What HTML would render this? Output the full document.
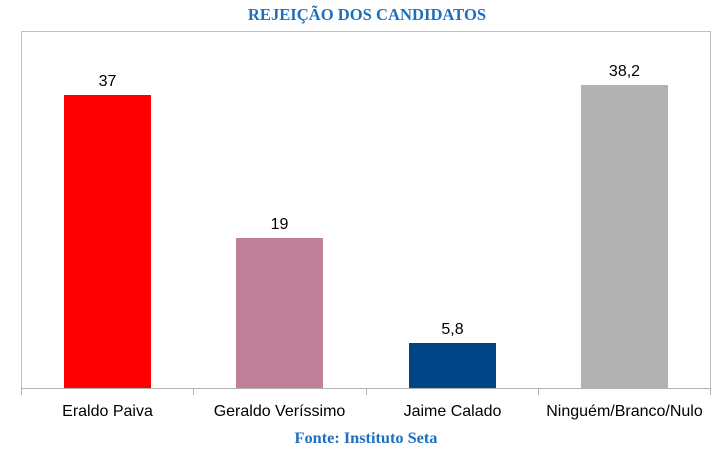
<!DOCTYPE html>
<html><head><style>body{margin:0;background:#fff}</style></head><body>
<svg width="726" height="471" xmlns="http://www.w3.org/2000/svg">
<rect width="726" height="471" fill="#fff"/>
<text x="367" y="20" text-anchor="middle" font-family="Liberation Serif, serif" font-weight="bold" font-size="16.6" fill="#1f6fc0">REJEIÇÃO DOS CANDIDATOS</text>
<polyline points="21.5,389 21.5,31.5 710.5,31.5 710.5,389" fill="none" stroke="#c0c0c0" stroke-width="1"/>
<rect x="64" y="95" width="87" height="293" fill="#ff0000"/>
<rect x="236" y="238" width="87" height="150" fill="#c0809c"/>
<rect x="409" y="343" width="87" height="45" fill="#004586"/>
<rect x="581" y="85" width="87" height="303" fill="#b2b2b2"/>
<line x1="21" y1="388.5" x2="711" y2="388.5" stroke="#b0b0b0"/>
<g stroke="#b0b0b0"><line x1="21.5" y1="388" x2="21.5" y2="395"/><line x1="193.5" y1="388" x2="193.5" y2="395"/><line x1="366.5" y1="388" x2="366.5" y2="395"/><line x1="538.5" y1="388" x2="538.5" y2="395"/><line x1="710.5" y1="388" x2="710.5" y2="395"/></g>
<g font-family="Liberation Sans, sans-serif" font-size="16" text-anchor="middle" fill="#000">
<text x="107.5" y="86">37</text><text x="279.5" y="229">19</text><text x="452.5" y="334">5,8</text><text x="624.5" y="76">38,2</text>
<text x="107.5" y="416">Eraldo Paiva</text><text x="279.5" y="416">Geraldo Veríssimo</text><text x="452.5" y="416">Jaime Calado</text><text x="624.5" y="416">Ninguém/Branco/Nulo</text>
</g>
<text x="366" y="443" text-anchor="middle" font-family="Liberation Serif, serif" font-weight="bold" font-size="16.3" fill="#1f6fc0">Fonte: Instituto Seta</text>
</svg>
</body></html>
